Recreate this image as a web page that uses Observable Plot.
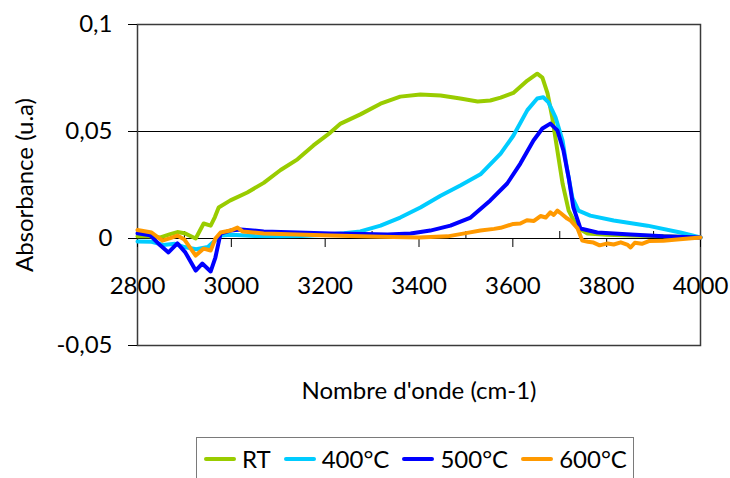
<!DOCTYPE html>
<html>
<head>
<meta charset="utf-8">
<script src="https://cdn.jsdelivr.net/npm/d3@7"></script>
<script src="https://cdn.jsdelivr.net/npm/@observablehq/plot@0.6"></script>
<style>
  html, body { margin: 0; padding: 0; background: #fff; }
  #wrap { width: 730px; font-family: Lato, sans-serif; }
  #legend {
    margin-left: 196px; margin-top: 5px; width: 438px; box-sizing: border-box;
    border: 1px solid #7a7a7a; padding: 7px 0 0 7px; display: flex;
    font-size: 24px; line-height: 28px; color: #000; height: 60px; align-items: flex-start;
  }
  .item { display: flex; align-items: center; margin-right: 13px; height: 28px; }
  .sw { width: 32px; height: 4px; margin-right: 6px; border-radius: 2px; }
</style>
</head>
<body>
<div id="wrap"></div>
<script>
// ---- data ----
const seriesNames = ["RT", "400°C", "500°C", "600°C"];
const seriesColors = ["#99cc00", "#00ccff", "#0000ff", "#ff9900"];

const rtX = [2800, 2820, 2849, 2870, 2885, 2900, 2924, 2941, 2956, 2965, 2973, 2998, 3034, 3069, 3105, 3141, 3175, 3211, 3233, 3275, 3318, 3360, 3403, 3446, 3488, 3525, 3552, 3574, 3601, 3631, 3652, 3663, 3674, 3684, 3695, 3706, 3719, 3738, 3759, 3800, 3851, 3921, 4000];
const rtY = [0.001, 0.0012, 0.0005, 0.002, 0.003, 0.0025, 0.000, 0.007, 0.006, 0.010, 0.0145, 0.0178, 0.0215, 0.026, 0.032, 0.037, 0.0435, 0.0495, 0.0537, 0.058, 0.063, 0.0663, 0.0673, 0.0668, 0.0654, 0.064, 0.0645, 0.0658, 0.068, 0.0738, 0.077, 0.0752, 0.0678, 0.0566, 0.041, 0.0257, 0.013, 0.005, 0.0023, 0.0018, 0.0014, 0.001, 0.0005];

const t400X = [2800, 2830, 2855, 2880, 2900, 2925, 2950, 2977, 3000, 3050, 3100, 3150, 3200, 3240, 3275, 3318, 3360, 3403, 3446, 3488, 3531, 3574, 3601, 3631, 3652, 3665, 3676, 3691, 3706, 3716, 3727, 3740, 3765, 3815, 3887, 3957, 4000];
const t400Y = [-0.0014, -0.0015, -0.003, -0.0025, -0.004, -0.005, -0.004, 0.0014, 0.0018, 0.0012, 0.001, 0.0012, 0.0018, 0.0025, 0.0033, 0.006, 0.0098, 0.0145, 0.02, 0.0248, 0.03, 0.0397, 0.048, 0.06, 0.0654, 0.066, 0.0636, 0.0566, 0.0458, 0.0318, 0.019, 0.013, 0.0107, 0.0084, 0.006, 0.0028, 0.0005];

const t500X = [2800, 2827, 2849, 2866, 2885, 2902, 2924, 2938, 2956, 2966, 2977, 2998, 3020, 3069, 3141, 3211, 3282, 3333, 3382, 3424, 3467, 3510, 3552, 3588, 3616, 3644, 3663, 3680, 3695, 3708, 3719, 3729, 3744, 3780, 3851, 3921, 4000];
const t500Y = [0.0024, 0.0015, -0.0033, -0.0065, -0.0023, -0.0065, -0.015, -0.0117, -0.0154, -0.0089, 0.0023, 0.0037, 0.0042, 0.0033, 0.0028, 0.0023, 0.0021, 0.0019, 0.0023, 0.0037, 0.006, 0.0098, 0.0178, 0.0257, 0.035, 0.0458, 0.0514, 0.0537, 0.0505, 0.041, 0.0285, 0.0145, 0.0047, 0.0028, 0.0019, 0.001, 0.0005];

const t600X = [2800, 2830, 2853, 2870, 2885, 2900, 2924, 2941, 2956, 2966, 2977, 2998, 3013, 3024, 3069, 3141, 3211, 3318, 3400, 3461, 3500, 3531, 3560, 3574, 3601, 3616, 3630, 3645, 3659, 3670, 3680, 3687, 3695, 3701, 3716, 3723, 3738, 3748, 3760, 3772, 3785, 3802, 3815, 3830, 3845, 3851, 3860, 3875, 3890, 3921, 3950, 3975, 4000];
const t600Y = [0.004, 0.0028, -0.001, 0.0002, 0.0014, -0.0005, -0.008, -0.0047, -0.0056, 0.0, 0.0028, 0.0037, 0.0051, 0.0033, 0.0023, 0.0019, 0.0014, 0.0008, 0.0005, 0.001, 0.0025, 0.0037, 0.0045, 0.005, 0.0068, 0.007, 0.0085, 0.0082, 0.0105, 0.0098, 0.0122, 0.011, 0.013, 0.012, 0.0093, 0.0084, 0.0047, -0.001, -0.0015, -0.0019, -0.0032, -0.0023, -0.0028, -0.0018, -0.003, -0.0042, -0.002, -0.0025, -0.0012, -0.001, -0.0005, 0.0, 0.0005];

const xTicks = [2800, 3000, 3200, 3400, 3600, 3800, 4000];
const xMinorTicks = [2900, 3100, 3300, 3500, 3700, 3900];
const yTicks = [0.1, 0.05, 0, -0.05];
const yTickLabels = ["0,1", "0,05", "0", "-0,05"];
const xTitle = "Nombre d'onde (cm-1)";
const yTitle = "Absorbance (u.a)";

// ---- table ----
const seriesXY = [[rtX, rtY], [t400X, t400Y], [t500X, t500Y], [t600X, t600Y]];
const table = seriesXY.flatMap(([xs, ys], i) => xs.map((x, j) => ({series: seriesNames[i], x, y: ys[j]})));

// ---- layout ----
const W = 730, H = 432, mT = 24, mB = 87, mL = 137, mR = 30;
const yMin = -0.05, yMax = 0.1;
const plotH = H - mT - mB;
const zeroPx = mT + plotH * (yMax - 0) / (yMax - yMin);
const dyBottom = zeroPx - (H - mB);
const dyTop = zeroPx - mT;

const chart = Plot.plot({
  width: W, height: H,
  marginTop: mT, marginBottom: mB, marginLeft: mL, marginRight: mR,
  style: {fontFamily: "Lato, sans-serif", fontSize: "24px", color: "#000", background: "#fff", overflow: "visible"},
  x: {domain: [2800, 4000]},
  y: {domain: [yMin, yMax]},
  color: {domain: seriesNames, range: seriesColors},
  marks: [
    Plot.ruleY([0.05], {stroke: "#000", strokeWidth: 1}),
    Plot.ruleY([0], {stroke: "#000", strokeWidth: 1}),
    Plot.frame({stroke: "#3a3a3a", strokeWidth: 1.5}),
    Plot.axisY({ticks: yTicks, tickFormat: d => yTickLabels[yTicks.indexOf(d)], tickSize: 9, tickPadding: 16, label: null}),
    Plot.axisX({anchor: "bottom", ticks: xTicks, tickFormat: d => String(d), tickSize: 9, tickPadding: 29, dy: dyBottom, label: null}),
    Plot.axisX({anchor: "top", ticks: xMinorTicks, tickFormat: () => "", tickSize: 8, dy: dyTop, label: null}),
    Plot.line(table, {x: "x", y: "y", z: "series", stroke: "series", strokeWidth: 4}),
    Plot.text([yTitle], {text: d => d, frameAnchor: "left", textAnchor: "middle", dx: -112, rotate: -90}),
    Plot.text([xTitle], {text: d => d, frameAnchor: "bottom", dy: 53})
  ]
});

const wrap = document.getElementById("wrap");
wrap.appendChild(chart);

const legend = document.createElement("div");
legend.id = "legend";
seriesNames.forEach((name, i) => {
  const item = document.createElement("div");
  item.className = "item";
  const sw = document.createElement("span");
  sw.className = "sw";
  sw.style.background = seriesColors[i];
  const label = document.createElement("span");
  label.textContent = name;
  item.appendChild(sw);
  item.appendChild(label);
  legend.appendChild(item);
});
wrap.appendChild(legend);
</script>
</body>
</html>
